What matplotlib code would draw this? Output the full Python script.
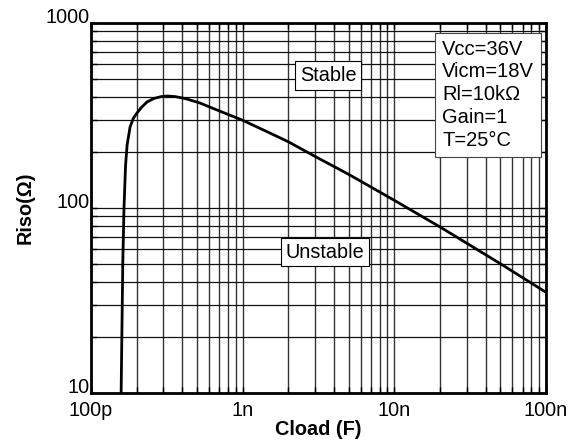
import numpy as np
import matplotlib
matplotlib.use("Agg")
import matplotlib.pyplot as plt
from matplotlib.ticker import LogLocator, FixedLocator, FixedFormatter, NullFormatter

plt.rcParams['font.family'] = ['Liberation Sans', 'DejaVu Sans']

# curve (Cload in F, Riso in ohm)
cload = [1.58e-10, 1.62e-10, 1.65e-10, 1.69e-10, 1.73e-10, 1.81e-10, 1.9e-10,
         2.01e-10, 2.15e-10, 2.34e-10, 2.6e-10, 2.9e-10, 3.16e-10, 3.6e-10,
         4.2e-10, 5.2e-10, 7e-10, 1e-9, 1.5e-9, 2e-9, 3e-9, 5e-9, 1e-8,
         2e-8, 5e-8, 1e-7]
riso = [10, 50, 100, 170, 219, 274, 305, 326, 350, 374, 391, 400, 403, 400,
        390, 370, 335, 298, 255, 228, 190, 152, 110, 79, 50, 35]

xticks = [1e-10, 1e-9, 1e-8, 1e-7]
xlabels = ["100p", "1n", "10n", "100n"]
yticks = [10, 100, 1000]
ylabels = ["10", "100", "1000"]
conditions = ["Vcc=36V", "Vicm=18V", "Rl=10k\u03a9", "Gain=1", "T=25\u00b0C"]

fig = plt.figure(figsize=(5.8, 4.44), dpi=100)
ax = fig.add_axes([0.1569, 0.1149, 0.7845, 0.8333])

ax.set_xscale("log")
ax.set_yscale("log")
ax.set_xlim(1e-10, 1e-7)
ax.set_ylim(10, 1000)

ax.xaxis.set_major_locator(FixedLocator(xticks))
ax.xaxis.set_major_formatter(FixedFormatter(xlabels))
ax.yaxis.set_major_locator(FixedLocator(yticks))
ax.yaxis.set_major_formatter(FixedFormatter(ylabels))
ax.xaxis.set_minor_locator(LogLocator(base=10, subs=np.arange(2, 10)))
ax.yaxis.set_minor_locator(LogLocator(base=10, subs=np.arange(2, 10)))
ax.xaxis.set_minor_formatter(NullFormatter())
ax.yaxis.set_minor_formatter(NullFormatter())

ax.grid(True, which="both", axis="x", color="#333333", lw=1.0)
ax.grid(True, which="both", axis="y", color="#111111", lw=0.9)

ax.tick_params(which="both", direction="in", top=True, right=True,
               length=4, width=1, labelsize=14.3)
ax.tick_params(axis="x", pad=6)
ax.tick_params(axis="y", pad=1)
plt.setp(ax.get_yticklabels(), va="baseline")
for s in ax.spines.values():
    s.set_linewidth(2)

ax.plot(cload, riso, color="black", lw=2)

ax.set_xlabel("Cload (F)", fontsize=14.3, fontweight="bold", labelpad=0)
ax.set_ylabel("Riso(\u03a9)", fontsize=14.3, fontweight="bold", labelpad=8)

ax.text(0.521, 0.859, "Stable", transform=ax.transAxes, ha="center",
        va="center", fontsize=14.3,
        bbox=dict(boxstyle="square,pad=0.25", fc="white", ec="black", lw=0.8))
ax.text(0.514, 0.381, "Unstable", transform=ax.transAxes, ha="center",
        va="center", fontsize=14.3,
        bbox=dict(boxstyle="square,pad=0.25", fc="white", ec="black", lw=0.8))
ax.text(0.772, 0.955, "\n".join(conditions), transform=ax.transAxes,
        ha="left", va="top", fontsize=14.5, linespacing=1.25,
        bbox=dict(boxstyle="square,pad=0.35", fc="white", ec="#444444", lw=0.8))

fig.savefig("out.png", dpi=100)
